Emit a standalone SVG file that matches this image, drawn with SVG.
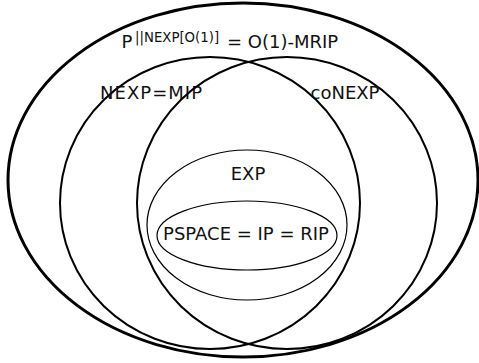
<svg xmlns="http://www.w3.org/2000/svg" width="479" height="363" viewBox="0 0 479 363">
<style>
.t{font-family:"DejaVu Sans",sans-serif;font-size:18px;fill:#111}
.s{font-family:"DejaVu Sans",sans-serif;font-size:13.3px;fill:#111}
ellipse{fill:none;stroke:#000}
</style>
<rect width="479" height="363" fill="#fff"/>
<g id="outer"><ellipse cx="243" cy="180" rx="235" ry="177" stroke-width="3"/>
<text class="t" x="121.5" y="48">P</text>
<text class="s" x="135" y="41.5">||NEXP[O(1)]</text>
<text class="t" x="227" y="48">= O(1)-MRIP</text></g>
<g id="nexp"><ellipse cx="210" cy="203" rx="150" ry="146" stroke-width="2"/>
<text class="t" x="100" y="99" textLength="102" lengthAdjust="spacing">NEXP=MIP</text></g>
<g id="conexp"><ellipse cx="287" cy="203" rx="150" ry="146" stroke-width="2"/>
<text class="t" x="345" y="99" text-anchor="middle">coNEXP</text></g>
<g id="exp"><ellipse cx="247" cy="225" rx="100" ry="75" stroke-width="1.2"/>
<text class="t" x="248" y="180" text-anchor="middle">EXP</text></g>
<g id="pspace"><ellipse cx="247" cy="235.5" rx="90" ry="34.5" stroke-width="1.2"/>
<text class="t" x="246" y="240" text-anchor="middle">PSPACE = IP = RIP</text></g>
<g id="connectors"/>
</svg>
